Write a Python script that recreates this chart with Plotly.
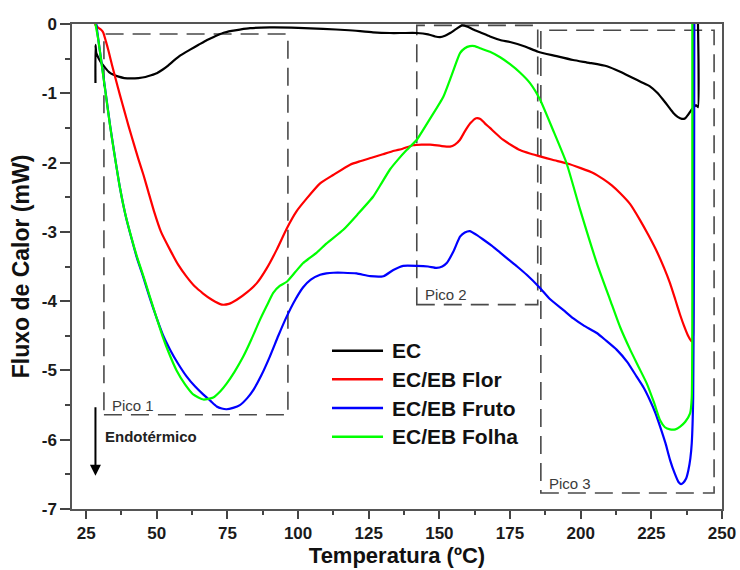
import plotly.graph_objects as go

# ---------------- data ----------------
ec_x = [28.3, 28.3, 28.6, 29.5, 30.5, 31.7, 33, 34.5, 36.5, 38.5, 41, 43.5, 46, 48, 50, 52, 54, 56,
        58.5, 61.8, 64.8, 67.8, 70.5, 73.4, 76.5, 79.4, 83, 90, 100, 108.8, 118, 126.5, 132.5, 137, 142,
        146, 148.5, 150.2, 152, 153.8, 156, 158, 160, 162, 164.4, 167.9, 171.5, 175, 180, 184.9, 191,
        197.3, 203, 209.3, 214, 218.5, 221.5, 224.5, 227, 229.1, 231, 232.7, 234.3, 235.8, 237, 238,
        239, 239.8, 240.8, 241.5, 241.7, 241.5]
ec_y = [-0.85, -0.3, -0.42, -0.5, -0.57, -0.63, -0.69, -0.73, -0.76, -0.78, -0.785, -0.78, -0.765,
        -0.74, -0.71, -0.66, -0.6, -0.53, -0.45, -0.37, -0.3, -0.23, -0.18, -0.13, -0.1, -0.08, -0.06,
        -0.05, -0.055, -0.07, -0.09, -0.12, -0.13, -0.13, -0.13, -0.15, -0.18, -0.19, -0.17, -0.13,
        -0.07, -0.02, -0.04, -0.08, -0.12, -0.18, -0.23, -0.26, -0.32, -0.40, -0.46, -0.52, -0.56,
        -0.61, -0.69, -0.78, -0.84, -0.90, -0.99, -1.09, -1.19, -1.28, -1.34, -1.37, -1.36, -1.31,
        -1.25, -1.21, -1.17, -1.2, -0.6, 0.0]

flor_x = [28.0, 29.2, 30.2, 31.0, 32.0, 33.0, 34.2, 35.5, 37.0, 38.5, 40.0, 41.8, 43.5, 45.3, 47.0,
          49.0, 51.5, 54.7, 57.5, 60.6, 63.5, 66.4, 69.5, 73.0, 75.5, 78.3, 82.0, 85.4, 89.0, 92.4,
          96.0, 99.5, 103.0, 107.8, 112.4, 118.4, 121.9, 126, 130.0, 134, 137, 140.7, 146.7, 150.5,
          153.8, 155.5, 157.3, 159, 161, 163.0, 164.5, 166, 167.9, 170, 172.5, 175.5, 178.5, 182,
          185.6, 190, 195.0, 200, 204.4, 208, 211, 213.9, 217.5, 221.0, 224, 226.9, 229.5, 231.6,
          233.5, 235.2, 236.5, 238, 239.2, 239.6, 239.8, 239.8]
flor_y = [0.0, -0.05, -0.08, -0.12, -0.25, -0.4, -0.6, -0.8, -1.03, -1.25, -1.47, -1.72, -1.95, -2.18,
          -2.42, -2.7, -3.0, -3.26, -3.47, -3.65, -3.79, -3.89, -3.98, -4.05, -4.04, -3.98, -3.87,
          -3.74, -3.52, -3.26, -2.95, -2.7, -2.52, -2.3, -2.18, -2.03, -1.98, -1.93, -1.88, -1.83,
          -1.8, -1.75, -1.74, -1.76, -1.77, -1.74, -1.67, -1.55, -1.43, -1.36, -1.37, -1.43, -1.5,
          -1.58, -1.67, -1.75, -1.82, -1.87, -1.91, -1.96, -2.01, -2.08, -2.15, -2.24, -2.33, -2.44,
          -2.6, -2.83, -3.05, -3.28, -3.52, -3.74, -3.98, -4.2, -4.35, -4.5, -4.58, -4.55, -4.45, 0.0]

fruto_x = [28.6, 29.3, 30.5, 32.0, 33.5, 35.0, 37.0, 39.0, 41.1, 43.0, 45.2, 47.5, 50.0, 52.3, 54.7,
           57.5, 60.6, 63.5, 66.5, 69, 71.2, 73, 74.7, 77, 79.4, 82, 84.2, 87, 90.0, 93, 96.0, 99,
           101.8, 104.5, 107.8, 110, 112.5, 116, 120.7, 125.5, 130.2, 133.7, 137.2, 142.0, 146, 149.0,
           151, 152.6, 155, 157.3, 159, 160.8, 163, 165.5, 168.5, 171.5, 174.5, 177.5, 180.9, 185.6,
           189.1, 193.9, 197.4, 201, 205.7, 209, 212.7, 216.5, 219.8, 222.3, 224.5, 226.3, 228.1, 230,
           231.6, 233.2, 234.6, 235.5, 236.3, 237.3, 238.1, 238.8, 239.3, 239.8, 240.1, 240.2]
fruto_y = [0.0, -0.22, -0.57, -1.02, -1.47, -1.87, -2.37, -2.77, -3.1, -3.38, -3.65, -3.95, -4.25,
           -4.5, -4.7, -4.9, -5.09, -5.23, -5.35, -5.44, -5.52, -5.55, -5.56, -5.54, -5.5, -5.4,
           -5.28, -5.07, -4.8, -4.5, -4.22, -3.98, -3.8, -3.69, -3.62, -3.6, -3.59, -3.59, -3.6,
           -3.64, -3.64, -3.55, -3.49, -3.49, -3.5, -3.52, -3.5, -3.45, -3.28, -3.07, -3.01, -2.99,
           -3.04, -3.11, -3.2, -3.3, -3.4, -3.5, -3.62, -3.81, -3.97, -4.13, -4.25, -4.35, -4.46,
           -4.57, -4.7, -4.88, -5.09, -5.25, -5.43, -5.6, -5.81, -6.05, -6.29, -6.48, -6.61, -6.64,
           -6.62, -6.56, -6.44, -6.27, -6.05, -5.4, -3.0, 0.0]

folha_x = [28.3, 29.2, 30.4, 31.9, 33.4, 34.9, 36.9, 38.9, 41.0, 43.0, 45.2, 47.5, 50.0, 52.0, 54.0,
           57.0, 60.0, 63.0, 66.5, 70.0, 72.5, 74.7, 77.5, 80.6, 83.5, 86.5, 89, 91.2, 93.5, 96.0, 99,
           101.8, 104, 106.6, 110, 116.0, 121, 126.6, 129.5, 132.5, 135.5, 138.4, 142.0, 146.5, 151.4,
           154.5, 157.3, 159, 160.8, 162.5, 164.4, 167.9, 171.5, 175.0, 178.5, 182.0, 185.6, 190.2,
           195.0, 199.8, 205.7, 210.4, 213.9, 217.5, 220.5, 223.4, 226, 228.1, 229.8, 231.6, 233.5,
           235.2, 237, 238.7, 239.3, 239.5, 239.5]
folha_y = [0.0, -0.2, -0.55, -1.0, -1.45, -1.85, -2.35, -2.75, -3.08, -3.36, -3.63, -3.93, -4.25, -4.5,
           -4.72, -5.0, -5.2, -5.35, -5.42, -5.39, -5.3, -5.19, -5.02, -4.8, -4.55, -4.27, -4.06,
           -3.88, -3.78, -3.72, -3.58, -3.45, -3.38, -3.3, -3.17, -2.97, -2.75, -2.49, -2.3, -2.1,
           -1.95, -1.82, -1.67, -1.38, -1.05, -0.72, -0.42, -0.35, -0.32, -0.32, -0.35, -0.4, -0.48,
           -0.58, -0.7, -0.85, -1.09, -1.53, -2.01, -2.68, -3.45, -3.98, -4.37, -4.7, -4.95, -5.19,
           -5.47, -5.72, -5.82, -5.85, -5.85, -5.81, -5.74, -5.62, -5.4, -4.0, 0.0]

series_names = ["EC", "EC/EB Flor", "EC/EB Fruto", "EC/EB Folha"]
series_colors = ["#000000", "#ff0000", "#0000ff", "#00ff00"]

# peak regions: (label, T start, T end, top, bottom)
pico_labels = ["Pico 1", "Pico 2", "Pico 3"]
pico_t0 = [31.3, 142.0, 185.9]
pico_t1 = [96.4, 184.8, 247.2]
pico_top = [-0.145, -0.02, -0.09]
pico_bottom = [-5.64, -4.05, -6.77]

x_ticks = [25, 50, 75, 100, 125, 150, 175, 200, 225, 250]
y_ticks = [-7, -6, -5, -4, -3, -2, -1, 0]
y_tick_labels = ["-7", "-6", "-5", "-4", "-3", "-2", "-1", "0"]

# ---------------- figure ----------------
FONT = "Liberation Sans, Arial, sans-serif"
fig = go.Figure()
all_x = [ec_x, flor_x, fruto_x, folha_x]
all_y = [ec_y, flor_y, fruto_y, folha_y]
for name, color, xs, ys in zip(series_names, series_colors, all_x, all_y):
    fig.add_trace(go.Scatter(x=xs, y=ys, mode="lines", name=name,
                             line=dict(color=color, width=2.2, shape="spline", smoothing=0.5),
                             showlegend=False))

shapes = []
annotations = []
for lab, t0, t1, top, bot in zip(pico_labels, pico_t0, pico_t1, pico_top, pico_bottom):
    shapes.append(dict(type="rect", xref="x", yref="y", x0=t0, x1=t1, y0=bot, y1=top,
                       line=dict(color="#4a4a4a", width=1.6, dash="18px,9px"),
                       fillcolor="rgba(0,0,0,0)", layer="below"))
    annotations.append(dict(x=t0 + 2.1, y=bot + 0.14, xref="x", yref="y", text=lab,
                            showarrow=False, xanchor="left", yanchor="middle",
                            font=dict(family=FONT, size=15, color="#3a3a3a")))

# endothermic arrow
annotations.append(dict(x=28.3, y=-6.52, ax=28.3, ay=-5.51, xref="x", yref="y",
                        axref="x", ayref="y", text="", showarrow=True, arrowhead=2,
                        arrowsize=1.1, arrowwidth=2, arrowcolor="#000000"))
annotations.append(dict(x=31.0, y=-5.96, xref="x", yref="y", text="Endotérmico",
                        showarrow=False, xanchor="left", yanchor="middle",
                        font=dict(family=FONT, size=15, color="#222222", weight=700)))

# manual legend
leg_x0, leg_x1, leg_tx = 0.40, 0.4785, 0.4892
leg_y0, leg_dy = 0.3264, 0.0591
for i, (name, color) in enumerate(zip(series_names, series_colors)):
    yy = leg_y0 - i * leg_dy
    shapes.append(dict(type="line", xref="paper", yref="paper", x0=leg_x0, x1=leg_x1,
                       y0=yy, y1=yy, line=dict(color=color, width=2.5)))
    annotations.append(dict(x=leg_tx, y=yy, xref="paper", yref="paper", text=name,
                            showarrow=False, xanchor="left", yanchor="middle",
                            font=dict(family=FONT, size=21, color="#111111", weight=700)))

fig.update_layout(
    width=740, height=570,
    margin=dict(l=72, r=18, t=24, b=61),
    paper_bgcolor="white", plot_bgcolor="white",
    shapes=shapes, annotations=annotations,
    font=dict(family=FONT, color="#111111"),
)
fig.update_xaxes(range=[20, 250], tickvals=x_ticks, showgrid=False, zeroline=False, automargin=False,
                 showline=True, linecolor="#555555", linewidth=1.5, mirror=True,
                 ticks="outside", ticklen=8, tickwidth=1.5, tickcolor="#444444",
                 minor=dict(dtick=12.5, ticks="outside", ticklen=4, tickwidth=1.5, tickcolor="#444444"),
                 tickfont=dict(family=FONT, size=17, color="#1a1a1a", weight=700),
                 title=dict(text="Temperatura (ºC)", standoff=3,
                            font=dict(family=FONT, size=22, color="#111111", weight=700)))
fig.update_yaxes(range=[-7, 0], tickvals=y_ticks, ticktext=y_tick_labels, showgrid=False,
                 zeroline=False, showline=True, linecolor="#555555", linewidth=1.5, mirror=True,
                 automargin=False,
                 ticks="outside", ticklen=10, tickwidth=1.5, tickcolor="#444444",
                 minor=dict(dtick=0.5, ticks="outside", ticklen=5, tickwidth=1.5, tickcolor="#444444"),
                 tickfont=dict(family=FONT, size=17, color="#1a1a1a", weight=700),
                 title=dict(text="Fluxo de Calor (mW)", standoff=6,
                            font=dict(family=FONT, size=23, color="#111111", weight=700)))

fig.write_html("out.html")
